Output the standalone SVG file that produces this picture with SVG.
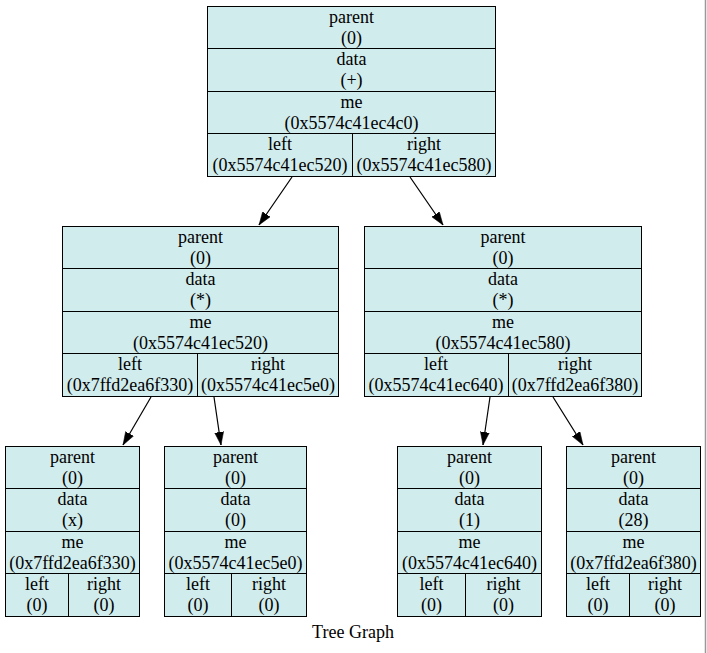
<svg xmlns="http://www.w3.org/2000/svg" width="707" height="653" viewBox="0 0 707 653">
<style>
  .box { fill: #d1ecec; stroke: #000; stroke-width: 1; }
  .sep { stroke: #000; stroke-width: 1; fill: none; }
  text { font-family: "Liberation Serif", "Times New Roman", serif; font-size: 18px; fill: #000; text-anchor: middle; }
  .edge { stroke: #000; stroke-width: 1.2; fill: none; marker-end: url(#arr); }
</style>
<defs>
  <marker id="arr" markerUnits="userSpaceOnUse" markerWidth="13" markerHeight="10" refX="13" refY="5" orient="auto">
    <path d="M0,0.5 L13,5 L0,9.5 z" fill="#000" stroke="#000" stroke-width="0.5"/>
  </marker>
</defs>
<rect x="0" y="0" width="707" height="653" fill="#fff"/>
<line x1="705.5" y1="0" x2="705.5" y2="653" stroke="#999" stroke-width="1.5"/>

<g id="connectors">
  <line class="edge" x1="292" y1="177" x2="259" y2="225"/>
  <line class="edge" x1="410" y1="177" x2="443" y2="225"/>
  <line class="edge" x1="151" y1="397" x2="123" y2="445"/>
  <line class="edge" x1="214" y1="397" x2="221" y2="445"/>
  <line class="edge" x1="490" y1="397" x2="483" y2="445"/>
  <line class="edge" x1="553" y1="397" x2="583" y2="445"/>
</g>

<g id="node_root">
  <rect class="box" x="207.5" y="6.5" width="288" height="170"/>
  <path class="sep" d="M207.5,48.5 H495.5 M207.5,91.5 H495.5 M207.5,133.5 H495.5 M352.5,133.5 V176.5"/>
  <text x="351.5" y="23">parent</text><text x="351.5" y="44">(0)</text>
  <text x="351.5" y="65">data</text><text x="351.5" y="86">(+)</text>
  <text x="351.5" y="108">me</text><text x="351.5" y="129">(0x5574c41ec4c0)</text>
  <text x="280" y="150">left</text><text x="280" y="171">(0x5574c41ec520)</text>
  <text x="424" y="150">right</text><text x="424" y="171">(0x5574c41ec580)</text>
</g>

<g id="node_mid_left">
  <rect class="box" x="62.5" y="226.5" width="276" height="170"/>
  <path class="sep" d="M62.5,268.5 H338.5 M62.5,311.5 H338.5 M62.5,353.5 H338.5 M197.5,353.5 V396.5"/>
  <text x="200.5" y="243">parent</text><text x="200.5" y="264">(0)</text>
  <text x="200.5" y="285">data</text><text x="200.5" y="306">(*)</text>
  <text x="200.5" y="328">me</text><text x="200.5" y="349">(0x5574c41ec520)</text>
  <text x="130" y="370">left</text><text x="130" y="391">(0x7ffd2ea6f330)</text>
  <text x="268" y="370">right</text><text x="268" y="391">(0x5574c41ec5e0)</text>
</g>

<g id="node_mid_right">
  <rect class="box" x="364.5" y="226.5" width="277" height="170"/>
  <path class="sep" d="M364.5,268.5 H641.5 M364.5,311.5 H641.5 M364.5,353.5 H641.5 M508.5,353.5 V396.5"/>
  <text x="503" y="243">parent</text><text x="503" y="264">(0)</text>
  <text x="503" y="285">data</text><text x="503" y="306">(*)</text>
  <text x="503" y="328">me</text><text x="503" y="349">(0x5574c41ec580)</text>
  <text x="436" y="370">left</text><text x="436" y="391">(0x5574c41ec640)</text>
  <text x="575" y="370">right</text><text x="575" y="391">(0x7ffd2ea6f380)</text>
</g>

<g id="node_leaf1">
  <rect class="box" x="5.5" y="446.5" width="134" height="170"/>
  <path class="sep" d="M5.5,488.5 H139.5 M5.5,531.5 H139.5 M5.5,573.5 H139.5 M68.5,573.5 V616.5"/>
  <text x="72.5" y="463">parent</text><text x="72.5" y="484">(0)</text>
  <text x="72.5" y="505">data</text><text x="72.5" y="526">(x)</text>
  <text x="72.5" y="548">me</text><text x="72.5" y="569">(0x7ffd2ea6f330)</text>
  <text x="37" y="590">left</text><text x="37" y="611">(0)</text>
  <text x="104" y="590">right</text><text x="104" y="611">(0)</text>
</g>

<g id="node_leaf2">
  <rect class="box" x="164.5" y="446.5" width="142" height="170"/>
  <path class="sep" d="M164.5,488.5 H306.5 M164.5,531.5 H306.5 M164.5,573.5 H306.5 M231.5,573.5 V616.5"/>
  <text x="235.5" y="463">parent</text><text x="235.5" y="484">(0)</text>
  <text x="235.5" y="505">data</text><text x="235.5" y="526">(0)</text>
  <text x="235.5" y="548">me</text><text x="235.5" y="569">(0x5574c41ec5e0)</text>
  <text x="198" y="590">left</text><text x="198" y="611">(0)</text>
  <text x="269" y="590">right</text><text x="269" y="611">(0)</text>
</g>

<g id="node_leaf3">
  <rect class="box" x="397.5" y="446.5" width="144" height="170"/>
  <path class="sep" d="M397.5,488.5 H541.5 M397.5,531.5 H541.5 M397.5,573.5 H541.5 M465.5,573.5 V616.5"/>
  <text x="469.5" y="463">parent</text><text x="469.5" y="484">(0)</text>
  <text x="469.5" y="505">data</text><text x="469.5" y="526">(1)</text>
  <text x="469.5" y="548">me</text><text x="469.5" y="569">(0x5574c41ec640)</text>
  <text x="431.5" y="590">left</text><text x="431.5" y="611">(0)</text>
  <text x="503.5" y="590">right</text><text x="503.5" y="611">(0)</text>
</g>

<g id="node_leaf4">
  <rect class="box" x="566.5" y="446.5" width="134" height="170"/>
  <path class="sep" d="M566.5,488.5 H700.5 M566.5,531.5 H700.5 M566.5,573.5 H700.5 M629.5,573.5 V616.5"/>
  <text x="633.5" y="463">parent</text><text x="633.5" y="484">(0)</text>
  <text x="633.5" y="505">data</text><text x="633.5" y="526">(28)</text>
  <text x="633.5" y="548">me</text><text x="633.5" y="569">(0x7ffd2ea6f380)</text>
  <text x="598" y="590">left</text><text x="598" y="611">(0)</text>
  <text x="665" y="590">right</text><text x="665" y="611">(0)</text>
</g>

<text id="title" x="353" y="638">Tree Graph</text>
</svg>
